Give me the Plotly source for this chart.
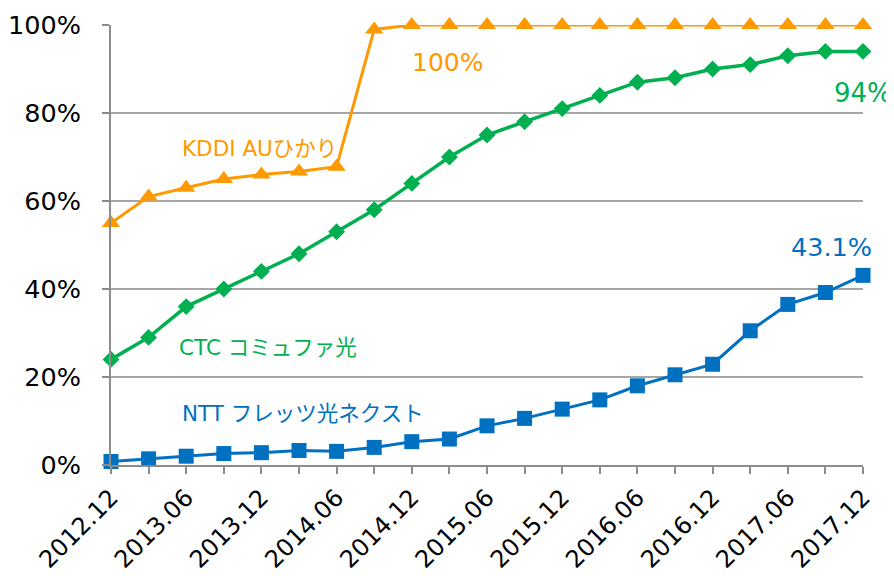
import plotly.graph_objects as go

categories = ["2012.12", "2013.03", "2013.06", "2013.09", "2013.12", "2014.03", "2014.06",
              "2014.09", "2014.12", "2015.03", "2015.06", "2015.09", "2015.12", "2016.03",
              "2016.06", "2016.09", "2016.12", "2017.03", "2017.06", "2017.09", "2017.12"]
kddi = [55, 61, 63, 65, 66, 66.7, 67.8, 99, 100, 100, 100, 100, 100, 100, 100, 100, 100, 100, 100, 100, 100]
ctc = [24, 29, 36, 40, 44, 48, 53, 58, 64, 70, 75, 78, 81, 84, 87, 88, 90, 91, 93, 94, 94]
ntt = [0.8, 1.4, 2.0, 2.6, 2.8, 3.3, 3.1, 4.0, 5.3, 5.9, 8.9, 10.6, 12.7, 14.8, 18.0, 20.5, 22.9, 30.5, 36.5, 39.2, 43.1]
tick_labels = [c if i % 2 == 0 else "" for i, c in enumerate(categories)]

ORANGE = "#FF9900"
GREEN = "#00B050"
BLUE = "#0070C0"
FONT = "Verdana, DejaVu Sans, Noto Sans CJK JP, sans-serif"

fig = go.Figure()
fig.add_trace(go.Scatter(x=categories, y=kddi, mode="lines+markers", cliponaxis=False,
                         line=dict(color=ORANGE, width=3),
                         marker=dict(symbol="triangle-up", size=16, color=ORANGE)))
fig.add_trace(go.Scatter(x=categories, y=ctc, mode="lines+markers", cliponaxis=False,
                         line=dict(color=GREEN, width=3.5),
                         marker=dict(symbol="diamond", size=13, color=GREEN)))
fig.add_trace(go.Scatter(x=categories, y=ntt, mode="lines+markers", cliponaxis=False,
                         line=dict(color=BLUE, width=3),
                         marker=dict(symbol="square", size=15, color=BLUE)))

annotations = [
    dict(text="KDDI AUひかり", x=3.94, y=72, color=ORANGE, size=21.5),
    dict(text="100%", x=8.96, y=91.4, color=ORANGE, size=25),
    dict(text="94%", x=20, y=84.5, color=GREEN, size=26),
    dict(text="CTC コミュファ光", x=4.18, y=26.8, color=GREEN, size=21.5),
    dict(text="NTT フレッツ光ネクスト", x=5.1, y=11.8, color=BLUE, size=21.5),
    dict(text="43.1%", x=19.15, y=49.5, color=BLUE, size=25.5),
]
for a in annotations:
    fig.add_annotation(x=a["x"], y=a["y"], xref="x", yref="y", text=a["text"], showarrow=False,
                       font=dict(color=a["color"], size=a["size"], family=FONT),
                       xanchor="center", yanchor="middle")

fig.update_layout(
    width=894, height=576,
    margin=dict(l=103, r=39, t=17, b=119, autoexpand=False),
    plot_bgcolor="white", paper_bgcolor="white",
    showlegend=False,
    font=dict(family=FONT, color="black", size=24),
)
fig.update_xaxes(type="category", range=[0, 20], tickmode="array", tickvals=categories,
                 ticktext=tick_labels, tickangle=-45, showline=True, linecolor="#8C8C8C",
                 linewidth=2, ticks="outside", ticklen=7, tickcolor="#8C8C8C", tickwidth=1.5,
                 showgrid=False, tickfont=dict(size=24), automargin=False)
fig.update_yaxes(range=[0, 100], dtick=20, ticksuffix="%", showline=True, linecolor="#8C8C8C",
                 linewidth=2, ticks="outside", ticklen=7, tickcolor="#8C8C8C", tickwidth=1.5,
                 showgrid=True, gridcolor="#A6A6A6", gridwidth=1.5, zeroline=False,
                 ticklabelstandoff=16, tickfont=dict(size=25.5), automargin=False)

fig.write_html("out.html")
